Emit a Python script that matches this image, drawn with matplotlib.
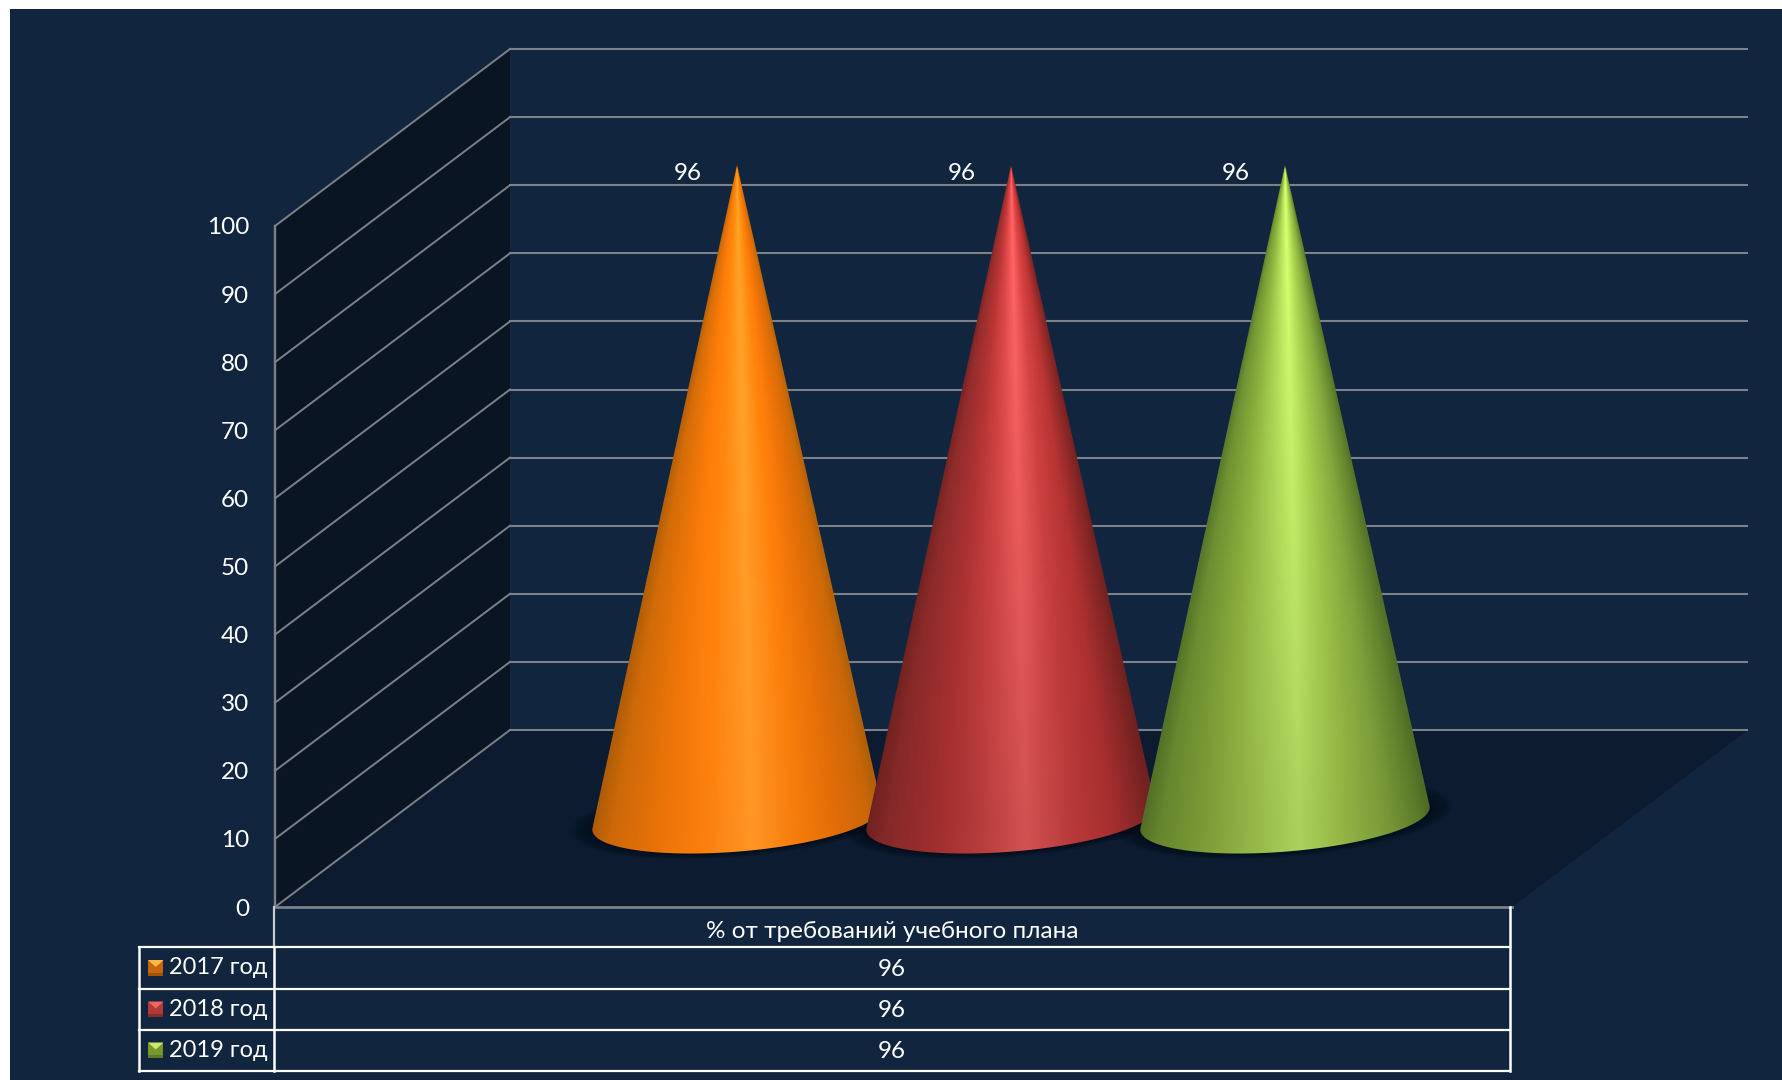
import numpy as np
import matplotlib
matplotlib.use('Agg')
import matplotlib.pyplot as plt
from matplotlib.patches import Polygon, Rectangle

# --- DATA ---
years = ['2017 год', '2018 год', '2019 год']
values = [96, 96, 96]
category = '% от требований учебного плана'
ticks = [0, 10, 20, 30, 40, 50, 60, 70, 80, 90, 100]

# colour stops across a cone: position (-1 left edge, 1 right edge) -> rgb
stops_u = [-1.0, -0.85, -0.5, -0.2, 0.1, 0.4, 0.7, 0.92, 1.0]
cone_colors = [
    ['#A85A08', '#CC6808', '#EC7408', '#FC800E', '#FF9626', '#F67C0B', '#E06C08', '#C86608', '#B06008'],
    ['#6C2020', '#842828', '#A02E2E', '#B83C3C', '#D25252', '#B83A3A', '#A62E2E', '#7E2424', '#6E2020'],
    ['#4F6B26', '#66852E', '#7F9F38', '#96B84A', '#ADD25C', '#92B443', '#789838', '#5C7A2A', '#4F6B26'],
]
cone_lift = [0.45, 1.0, 1.0]
key_base = ['#C8650F', '#B03A3A', '#78982F']
key_light = ['#FFB84A', '#F06464', '#CDE96C']
key_dark = ['#A05208', '#8A2C2C', '#5E7A26']

BG = '#11253F'
GRID = '#7C8187'
FONT = ['Lato', 'Open Sans', 'DejaVu Sans']
FS = 17.5

# --- layout of the fake 3D box (pixels) ---
X0, X1 = 275, 1512       # front edge of floor
Y0, PER_UNIT = 907, 6.81
DX, DY = 235, -177       # depth vector
CX = [737, 1011, 1285]   # cone centres, middle of depth
R, RD = 137, 58          # base radius in x and along depth


def vy(v):
    return Y0 - v * PER_UNIT


fig = plt.figure(figsize=(17.83, 10.80), dpi=100, facecolor='white')
ax = fig.add_axes([0, 0, 1, 1])
ax.set_xlim(0, 1783)
ax.set_ylim(1080, 0)
ax.axis('off')

ax.add_patch(Rectangle((10, 9), 1773, 1071, fc=BG, ec='none', zorder=0))

# walls and floor
top = vy(ticks[-1])
ax.add_patch(Polygon([(X0, Y0), (X0, top), (X0 + DX, top + DY), (X0 + DX, Y0 + DY)],
                     fc='#0A1524', ec='none', zorder=1))
ax.add_patch(Polygon([(X0, Y0), (X1, Y0), (X1 + DX + 1, Y0 + DY), (X0 + DX, Y0 + DY)],
                     fc='#0C1B30', ec='none', zorder=1))

for t in ticks:
    y = vy(t)
    ax.plot([X0, X0 + DX], [y, y + DY], color=GRID, lw=1.4, zorder=2)
    ax.plot([X0 + DX, X1 + DX], [y + DY, y + DY], color=GRID, lw=1.5, zorder=2)
    ax.text(249, y + 2, str(t), color='white', ha='right', va='center',
            family=FONT, fontsize=FS, zorder=5)
ax.plot([X0, X0], [Y0, top], color=GRID, lw=1.7, zorder=2)
ax.plot([X0, X1], [Y0, Y0], color=GRID, lw=2, zorder=6)

# cones
theta = np.linspace(0, 2 * np.pi, 721)
CY = Y0 + DY / 2
for i, cx in enumerate(CX):
    # soft shadow on the floor
    for k in range(14):
        g = 1.16 - k * 0.012
        sx = cx + R * g * np.cos(theta) + RD * g * np.sin(theta) * DX / 293
        sy = CY + RD * g * np.sin(theta) * DY / 293
        ax.add_patch(Polygon(np.c_[sx, sy], fc='#050B16', ec='none', alpha=0.06, zorder=3))

for i, cx in enumerate(CX):
    ax_y = CY - values[i] * PER_UNIT
    ex = cx + R * np.cos(theta) + RD * np.sin(theta) * DX / 293
    ey = CY + RD * np.sin(theta) * DY / 293

    # outline: apex + the part of the base seen from the front
    ang = np.arctan2(ex - cx, ey - ax_y)
    a, b = np.argmin(ang), np.argmax(ang)
    lo, hi = min(a, b), max(a, b)
    arc = np.arange(lo, hi + 1)
    if ey[arc].mean() < CY:
        arc = np.r_[np.arange(hi, len(theta)), np.arange(0, lo + 1)]
    outline = np.r_[[[cx, ax_y]], np.c_[ex[arc], ey[arc]]]

    # shading image over the bounding box
    x0, x1 = int(ex.min()) - 2, int(ex.max()) + 3
    y0, y1 = int(ax_y) - 2, int(ey.max()) + 3
    xx, yy = np.meshgrid(np.arange(x0, x1) + 0.5, np.arange(y0, y1) + 0.5)
    h = np.clip((yy - ax_y) / (CY - ax_y), 0.001, None)
    half = (ex.max() - cx) * h
    u = np.clip((xx - cx) / half, -1, 1)
    rgb = np.array([matplotlib.colors.to_rgb(c) for c in cone_colors[i]])
    img = np.stack([np.interp(u, stops_u, rgb[:, c]) for c in range(3)], axis=-1)
    # upper part is a bit brighter, most of all along the ridge
    up = np.clip(1 - h, 0, 1)
    lift = 1 + cone_lift[i] * up * (0.16 + 0.10 * np.exp(-(u / 0.6) ** 2))
    img = np.clip(img * lift[..., None], 0, 1)
    clip = Polygon(outline, closed=True, fc='none', ec='none', transform=ax.transData)
    ax.add_patch(clip)
    im = ax.imshow(img, extent=(x0, x1, y1, y0), zorder=4 + i * 0.1, aspect='auto',
                   interpolation='bilinear')
    im.set_clip_path(clip)

    ax.text(cx - 49, ax_y + 9, str(values[i]), color='white', ha='center', va='center',
            family=FONT, fontsize=FS, zorder=5)

ax.set_xlim(0, 1783)
ax.set_ylim(1080, 0)

# data table below the chart
TL, TD, TR = 139, 274, 1510
rows = [947, 989, 1030, 1071]
ax.plot([TD, TD], [Y0, rows[0]], color='#C9CDD2', lw=1.6, zorder=6)
ax.plot([TR, TR], [Y0, rows[-1]], color='white', lw=1.8, zorder=6)
ax.plot([TD, TD], [rows[0], rows[-1]], color='white', lw=1.8, zorder=6)
ax.plot([TL, TL], [rows[0], rows[-1]], color='white', lw=1.8, zorder=6)
for y in rows:
    ax.plot([TL, TR], [y, y], color='white', lw=1.6, zorder=6)

mid = (TD + TR) / 2
ax.text(mid, 932, category, color='white', ha='center', va='center',
        family=FONT, fontsize=FS, zorder=7)
for i, name in enumerate(years):
    yc = (rows[i] + rows[i + 1]) / 2
    ax.text(169, yc, name, color='white', ha='left', va='center',
            family=FONT, fontsize=17, zorder=7)
    ax.text(mid, yc + 1, str(values[i]), color='white', ha='center', va='center',
            family=FONT, fontsize=FS, zorder=7)
    # legend key, small bevelled square
    kx, ky, ks = 148, yc - 8, 15.5
    ax.add_patch(Rectangle((kx, ky), ks, ks, fc=key_base[i], ec='none', zorder=7))
    ax.add_patch(Rectangle((kx, ky + ks - 3), ks, 3, fc=key_dark[i], ec='none', zorder=7))
    ax.add_patch(Polygon([(kx, ky), (kx + ks, ky), (kx + ks / 2, ky + ks * 0.45)],
                         fc=key_light[i], ec='none', zorder=8))

fig.savefig('out.png', dpi=100, facecolor='white')
